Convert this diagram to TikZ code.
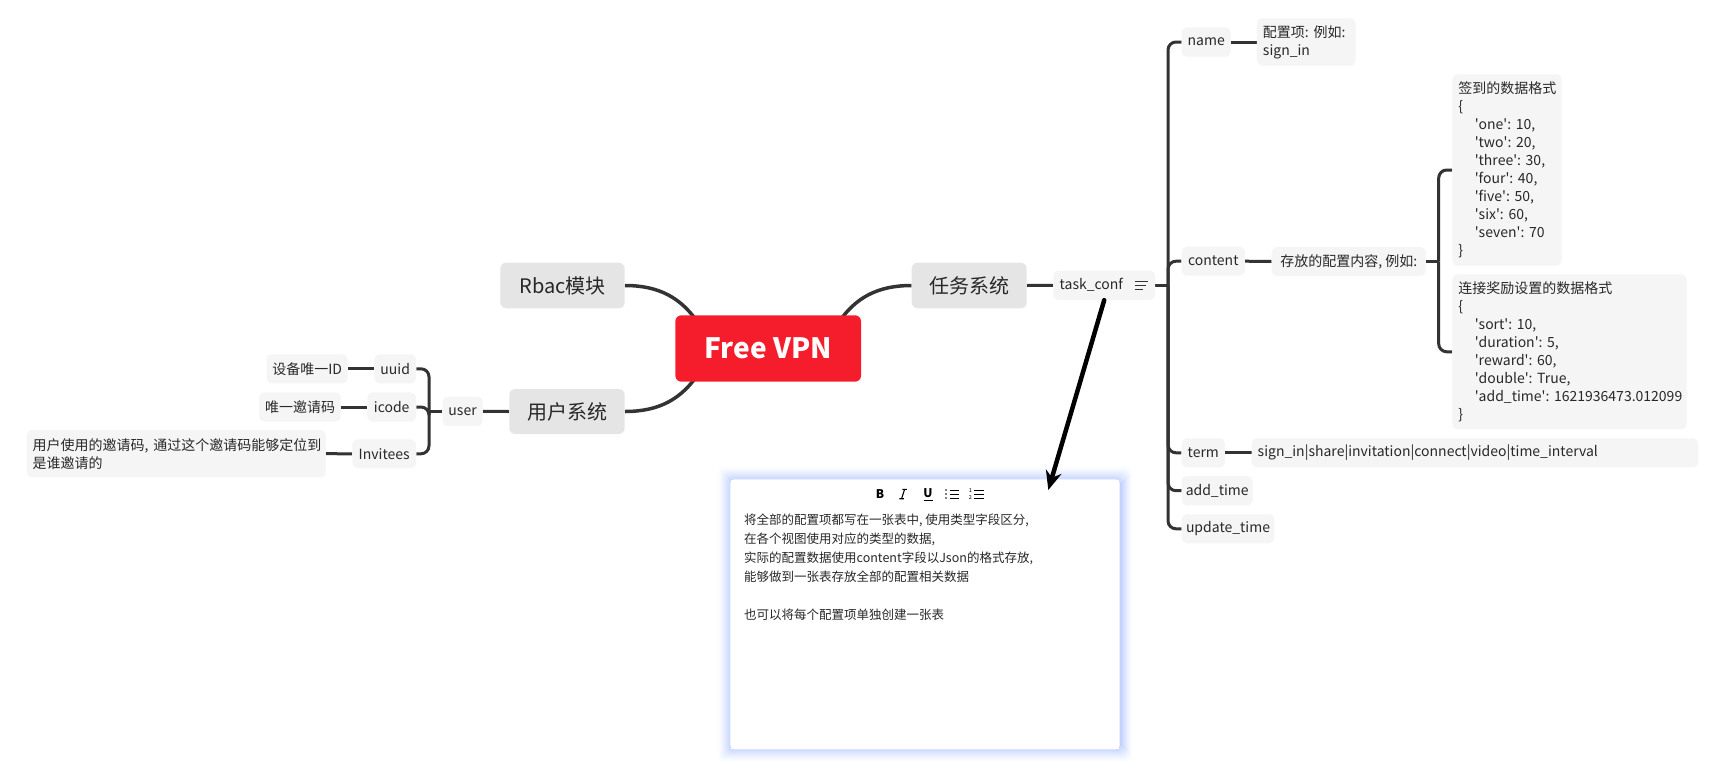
\documentclass[tikz,border=0pt]{standalone}
\usepackage{fontspec}
\setmainfont{Noto Sans CJK SC}
\usetikzlibrary{backgrounds,arrows.meta,calc}
\definecolor{lineclr}{RGB}{51,51,51}
\definecolor{textclr}{RGB}{40,40,40}
\definecolor{mainfill}{RGB}{229,229,229}
\definecolor{leaffill}{RGB}{245,245,245}
\definecolor{vpnred}{RGB}{245,29,44}
\definecolor{glowclr}{RGB}{125,160,255}
\newcommand\jind{\hspace*{16.5pt}}
\newcommand\sq{\textquotesingle}
\frenchspacing
\begin{document}
\begin{tikzpicture}[x=1pt,y=-1pt,
  every node/.style={text=textclr},
  sz/.style 2 args={minimum width=#1pt, minimum height=#2pt},
  ml/.style={align=left, text width=#1pt},
  mainbox/.style={fill=mainfill, rounded corners=6pt, inner sep=0pt, font=\fontsize{20}{24}\selectfont},
  leafbox/.style={fill=leaffill, rounded corners=5pt, inner sep=0pt, font=\fontsize{14}{18}\selectfont},
  vpnbox/.style={fill=vpnred, rounded corners=6pt, inner sep=0pt, text=white, font=\fontsize{28}{32}\selectfont\bfseries},
  conn/.style={draw=lineclr, line width=3pt},
  curveconn/.style={draw=lineclr, line width=3.5pt},
  brk/.style={conn, rounded corners=8pt},
]
\useasboundingbox (0,0) rectangle (1732,782);

% central and main topics
\node[vpnbox, sz={185.7}{66.4}] (vpn) at (768.2,348.5) {Free VPN};
\node[mainbox, sz={124.4}{45.6}] (rbac) at (562.5,285.5) {Rbac模块};
\node[mainbox, sz={115.4}{45}] (usersys) at (567,411.5) {用户系统};
\node[mainbox, sz={115}{45.6}] (task) at (969.2,285.5) {任务系统};

% user branch
\node[leafbox, sz={40.2}{29.3}] (user) at (462.6,411.3) {user};
\node[leafbox, sz={41.7}{29}] (uuid) at (395.2,368.8) {uuid};
\node[leafbox, sz={48.7}{29.4}] (icode) at (391.7,407) {icode};
\node[leafbox, sz={63.7}{29}] (invitees) at (384.2,453.8) {Invitees};
\node[leafbox, sz={81}{29}] (uuiddesc) at (307.2,368.8) {设备唯一ID};
\node[leafbox, sz={81.4}{29.4}] (icodedesc) at (300,407) {唯一邀请码};
\node[leafbox, sz={299}{47.3}, ml=287] (invdesc) at (176.2,453.7) {用户使用的邀请码,~通过这个邀请码能够定位到\\是谁邀请的};

% task branch
\node[leafbox, sz={101.7}{29.3}, ml=89] (taskconf) at (1104.2,285.3) {task\_conf};
\node[leafbox, sz={49}{29.4}] (name) at (1206.2,42) {name};
\node[leafbox, sz={98.7}{47.4}, ml=86.7] (namedesc) at (1306.3,42) {配置项:~例如:\\sign\_in};
\node[leafbox, sz={63.3}{29}] (content) at (1213.3,261.2) {content};
\node[leafbox, sz={154}{29}] (contentdesc) at (1348.7,261.5) {存放的配置内容, 例如:};
\node[leafbox, sz={109.4}{191.4}, ml=97.4] (json1) at (1507,170) {签到的数据格式\\\{\\\jind\sq one\sq:~10,\\\jind\sq two\sq:~20,\\\jind\sq three\sq:~30,\\\jind\sq four\sq:~40,\\\jind\sq five\sq:~50,\\\jind\sq six\sq:~60,\\\jind\sq seven\sq:~70\\\}};
\node[leafbox, sz={234.4}{155}, ml=222.4] (json2) at (1569.5,351.8) {连接奖励设置的数据格式\\\{\\\jind\sq sort\sq:~10,\\\jind\sq duration\sq:~5,\\\jind\sq reward\sq:~60,\\\jind\sq double\sq:~True,\\\jind\sq add\_time\sq:~1621936473.012099\\\}};
\node[leafbox, sz={43.3}{29}] (term) at (1203.3,452.8) {term};
\node[leafbox, sz={446.6}{29}, ml=434.6] (termdesc) at (1475,452.8) {sign\_in|share|invitation|connect|video|time\_interval};
\node[leafbox, sz={71}{29.3}] (addtime) at (1217.2,490.7) {add\_time};
\node[leafbox, sz={92.6}{29}] (updatetime) at (1228,528.8) {update\_time};

% note icon in task_conf
\draw[lineclr, line width=1.2pt] (1135,281.5) -- (1148,281.5) (1135,285.5) -- (1145.5,285.5) (1135,289.5) -- (1142.5,289.5);

% note box
\node[fill=white, inner sep=0pt, sz={388}{268.7}] (note) at (925,614.35) {};
\node[anchor=north west, inner sep=0pt, align=left, font=\fontsize{12.5}{19}\selectfont] (notetext) at (744,513.2) {将全部的配置项都写在一张表中, 使用类型字段区分,\\在各个视图使用对应的类型的数据,\\实际的配置数据使用content字段以Json的格式存放,\\能够做到一张表存放全部的配置相关数据\\[19pt]也可以将每个配置项单独创建一张表};

% toolbar
\node[inner sep=0pt, font=\fontsize{12}{14}\selectfont\bfseries, text=black] (tbB) at (880,494) {B};
\draw[black, line width=1.1pt] (904.6,489.3) -- (901.6,498.7) (902.4,489.3) -- (906.8,489.3) (899.4,498.7) -- (903.8,498.7);
\node[inner sep=0pt, font=\fontsize{12}{14}\selectfont\bfseries, text=black] (tbU) at (928,493.3) {U};
\draw[black, line width=1pt] (923.5,500.5) -- (932.5,500.5);
\foreach \yy in {490,494,498} {
  \fill[black] (946,\yy) circle (0.9);
  \draw[black, line width=1pt] (949.5,\yy) -- (959,\yy);
  \draw[black, line width=1pt] (974,\yy) -- (984,\yy);
}
\node[inner sep=0pt, font=\fontsize{5.5}{6}\selectfont, text=black] (tbn1) at (970.5,490.3) {1};
\node[inner sep=0pt, font=\fontsize{5.5}{6}\selectfont, text=black] (tbn2) at (970.5,497.6) {2};

% named coordinates
\coordinate (vpnA) at (700,326);
\coordinate (vpnB) at (700,371);
\coordinate (vpnC) at (836.4,326);
\coordinate (lbr) at (429,411.3);
\coordinate (rbr) at (1168,285.3);
\coordinate (jbr) at (1438.7,261.5);
\coordinate (arrowtip) at (1048.3,490);

\begin{pgfonlayer}{background}
  % glow of note
  \foreach \i/\o in {1/0.42,2/0.38,3/0.34,4/0.29,5/0.25,6/0.21,7/0.17,8/0.13,9/0.10,10/0.07,11/0.045,12/0.025,13/0.012}
    \draw[draw=glowclr, line width=1.1pt, opacity=\o, rounded corners=4pt]
      ($(note.north west)+(-\i,-\i)$) rectangle ($(note.south east)+(\i,\i)$);
  % main curves
  \draw[curveconn] (rbac.east) .. controls (658,285.5) and (682,297) .. (vpnA);
  \draw[curveconn] (usersys.east) .. controls (658,411.5) and (682,400) .. (vpnB);
  \draw[curveconn] (task.west) .. controls (878.4,285.5) and (854.4,297) .. (vpnC);
  % user branch
  \draw[conn] (user.east) -- (usersys.west);
  \draw[conn] (user.west) -- (lbr);
  \foreach \c in {uuid,icode,invitees} \draw[brk] (lbr) |- (\c.east);
  \draw[conn] (uuiddesc.east) -- (uuid.west);
  \draw[conn] (icodedesc.east) -- (icode.west);
  \draw[conn] (invdesc.east) -- (invitees.west);
  % task branch
  \draw[conn] (task.east) -- (taskconf.west);
  \draw[conn] (taskconf.east) -- (rbr);
  \foreach \c in {name,content,term,addtime,updatetime} \draw[brk] (rbr) |- (\c.west);
  \draw[conn] (name.east) -- (namedesc.west);
  \draw[conn] (content.east) -- (contentdesc.west);
  \draw[conn] (contentdesc.east) -- (jbr);
  \foreach \c in {json1,json2} \draw[brk] (jbr) |- (\c.west);
  \draw[conn] (term.east) -- (termdesc.west);
\end{pgfonlayer}

% arrow from task_conf to note
\draw[black, line width=4.5pt, line cap=round, -{Stealth[length=19pt,width=16pt]}] (taskconf.south) -- (arrowtip);
\end{tikzpicture}
\end{document}
